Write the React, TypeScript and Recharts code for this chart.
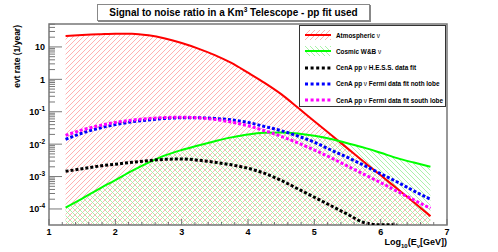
import React from "react";
import { ComposedChart, Area, Line, XAxis, YAxis, ReferenceArea } from "recharts";

// log10(E/GeV) sampling of the curves
const energy = [1.25, 1.5, 1.75, 2.0, 2.25, 2.5, 2.75, 3.0, 3.25, 3.5, 3.75, 4.0, 4.25, 4.5, 4.75, 5.0, 5.25, 5.5, 5.75, 6.0, 6.25, 6.5, 6.75];

// events per year
const atmospheric = [21.9, 23.4, 24.5, 25.7, 25.7, 22.9, 18.2, 13.2, 8.9, 5.6, 3.2, 1.6, 0.78, 0.35, 0.135, 0.051, 0.0195, 0.0074, 0.0028, 0.0011, 0.00042, 0.00016, 0.00006];
const cosmicWB = [0.00011, 0.00021, 0.00041, 0.00078, 0.0015, 0.0027, 0.0045, 0.0066, 0.0091, 0.0123, 0.0162, 0.02, 0.0224, 0.0229, 0.0214, 0.0182, 0.0145, 0.0107, 0.0078, 0.0054, 0.0037, 0.0027, 0.002];
const hessFit = [0.00145, 0.00174, 0.0021, 0.0024, 0.00275, 0.0031, 0.0034, 0.0035, 0.0032, 0.00275, 0.0023, 0.0018, 0.00126, 0.00076, 0.00042, 0.00023, 0.000126, 0.000069, 0.000038, 0.0000325, 0.0000325, null, null];
const fermiNorth = [0.0141, 0.0219, 0.031, 0.04, 0.049, 0.056, 0.062, 0.065, 0.065, 0.062, 0.056, 0.047, 0.035, 0.026, 0.0178, 0.0115, 0.0066, 0.0039, 0.0022, 0.00123, 0.00068, 0.00036, 0.0002];
const fermiSouth = [0.0186, 0.0275, 0.037, 0.047, 0.055, 0.062, 0.066, 0.068, 0.065, 0.058, 0.048, 0.037, 0.026, 0.0174, 0.011, 0.0066, 0.0038, 0.0021, 0.00117, 0.00065, 0.00035, 0.00019, 0.000105];

const xMajor = [1, 2, 3, 4, 5, 6, 7];
const yDecades = [-4, -3, -2, -1, 0, 1];
const yMin = 3.2e-5;
const yMax = 51;

const legendLabels = ["Atmospheric", "Cosmic W&B", "CenA pp", "CenA pp", "CenA pp"];
const legendSuffix = ["", "", " H.E.S.S. data fit", " Fermi data fit noth lobe", " Fermi data fit south lobe"];

const FONT = "'Liberation Sans', Arial, sans-serif";

const rows = energy.map((e, i) => ({
  e,
  atm: atmospheric[i],
  cos: cosmicWB[i],
  hess: hessFit[i],
  north: fermiNorth[i],
  south: fermiSouth[i],
}));

const xTicks: number[] = [];
xMajor.forEach((v, i) => {
  xTicks.push(v);
  if (i < xMajor.length - 1) for (let k = 1; k < 5; k++) xTicks.push(v + k * 0.2);
});

const yTicks: number[] = [];
yDecades.forEach((d) => {
  for (let m = 1; m < 10; m++) {
    const v = m * Math.pow(10, d);
    if (v >= yMin && v <= yMax) yTicks.push(v);
  }
});

function XTick({ x, y, payload }: any) {
  const v = payload.value;
  const major = Math.abs(v - Math.round(v)) < 1e-6;
  return (
    <g>
      <line x1={x} x2={x} y1={y} y2={y - (major ? 6 : 3)} stroke="#777" />
      {major && (
        <text x={x} y={y + 10} textAnchor="middle" fontSize={9} fontWeight="bold" fontFamily={FONT} fill="#000">
          {Math.round(v)}
        </text>
      )}
    </g>
  );
}

function YTick({ x, y, payload }: any) {
  const e = Math.log10(payload.value);
  const n = Math.round(e);
  const major = Math.abs(e - n) < 1e-6;
  return (
    <g>
      <line x1={x} x2={x + (major ? 13 : 6)} y1={y} y2={y} stroke="#777" />
      {major && (
        <text x={x - 4} y={y + 3.5} textAnchor="end" fontSize={9} fontWeight="bold" fontFamily={FONT} fill="#000">
          {n === 0 ? "1" : "10"}
          {n < 0 && (
            <tspan dy={-4} fontSize={6.5}>
              {n}
            </tspan>
          )}
        </text>
      )}
    </g>
  );
}

function Sample({ i }: { i: number }) {
  if (i < 2) {
    return (
      <svg width={26} height={10}>
        <rect x={0} y={0} width={26} height={10} fill={i === 0 ? "url(#hatchRed)" : "url(#hatchGreen)"} />
        <line x1={0} x2={26} y1={5} y2={5} stroke={i === 0 ? "#ff0000" : "#00ff00"} strokeWidth={2} />
      </svg>
    );
  }
  const col = ["#000000", "#0000ff", "#ff00ff"][i - 2];
  return (
    <svg width={26} height={10}>
      <line x1={0} x2={26} y1={5} y2={5} stroke={col} strokeWidth={3} strokeDasharray="3 2.6" />
    </svg>
  );
}

function LegendBox() {
  return (
    <div
      style={{
        position: "absolute",
        left: 299,
        top: 25,
        width: 147,
        height: 82,
        border: "1px solid #333",
        background: "#fff",
        boxSizing: "border-box",
        fontFamily: FONT,
      }}
    >
      {legendLabels.map((l, i) => (
        <div
          key={i}
          style={{
            position: "absolute",
            left: 5,
            top: 1 + i * 16.3,
            height: 16,
            display: "flex",
            alignItems: "center",
            whiteSpace: "nowrap",
          }}
        >
          <Sample i={i} />
          <span style={{ marginLeft: 5, fontSize: 6.4, fontWeight: "bold", color: "#000" }}>
            {l} <span style={{ fontWeight: "normal" }}>ν</span>
            {legendSuffix[i]}
          </span>
        </div>
      ))}
    </div>
  );
}

export default function App() {
  return (
    <div style={{ position: "absolute", left: 0, top: 0, width: 498, height: 252, background: "#fff", fontFamily: FONT }}>
      <ComposedChart width={498} height={252} data={rows} margin={{ top: 24, right: 51, bottom: 0, left: 0 }}>
        <defs>
          <pattern id="hatchRed" patternUnits="userSpaceOnUse" width={5} height={5}>
            <path d="M0,5 L5,0 M-1,1 L1,-1 M4,6 L6,4" stroke="#ffa8a8" strokeWidth={0.9} />
          </pattern>
          <pattern id="hatchGreen" patternUnits="userSpaceOnUse" width={5} height={5}>
            <path d="M0,0 L5,5 M-1,4 L1,6 M4,-1 L6,1" stroke="#a0f0a0" strokeWidth={0.9} />
          </pattern>
        </defs>
        <XAxis
          dataKey="e"
          type="number"
          domain={[1, 7]}
          ticks={xTicks}
          interval={0}
          height={27}
          tickSize={0}
          tickMargin={0}
          axisLine={false}
          tickLine={false}
          tick={<XTick />}
          allowDataOverflow
        />
        <YAxis
          scale="log"
          type="number"
          domain={[yMin, yMax]}
          ticks={yTicks}
          interval={0}
          width={49}
          tickSize={0}
          tickMargin={0}
          axisLine={false}
          tickLine={false}
          tick={<YTick />}
          allowDataOverflow
        />
        <Area dataKey="atm" type="monotone" baseValue={yMin} fill="url(#hatchRed)" fillOpacity={1} stroke="none" isAnimationActive={false} />
        <Area dataKey="cos" type="monotone" baseValue={yMin} fill="url(#hatchGreen)" fillOpacity={1} stroke="none" isAnimationActive={false} />
        <Line dataKey="atm" type="monotone" stroke="#ff0000" strokeWidth={2} dot={false} isAnimationActive={false} />
        <Line dataKey="cos" type="monotone" stroke="#00ff00" strokeWidth={2} dot={false} isAnimationActive={false} />
        <Line dataKey="hess" type="monotone" stroke="#000000" strokeWidth={3} strokeDasharray="3 2" dot={false} isAnimationActive={false} />
        <Line dataKey="north" type="monotone" stroke="#0000ff" strokeWidth={3} strokeDasharray="3 2" dot={false} isAnimationActive={false} />
        <Line dataKey="south" type="monotone" stroke="#ff00ff" strokeWidth={3} strokeDasharray="3 2" dot={false} isAnimationActive={false} />
        <ReferenceArea x1={1} x2={7} y1={yMin} y2={yMax} fill="none" stroke="#777" strokeWidth={1.5} ifOverflow="visible" />
      </ComposedChart>
      <LegendBox />
      <div
        style={{
          position: "absolute",
          left: 97,
          top: 4,
          width: 271,
          height: 15,
          border: "1px solid #888",
          boxShadow: "1px 1px 0 #888",
          fontSize: 10,
          fontWeight: "bold",
          textAlign: "center",
          lineHeight: "15px",
        }}
      >
        Signal to noise ratio in a Km<sup style={{ fontSize: 6.5, verticalAlign: "top", lineHeight: "10px" }}>3</sup> Telescope - pp fit used
      </div>
      <div
        style={{
          position: "absolute",
          left: 12,
          top: 25,
          transformOrigin: "0 0",
          transform: "rotate(-90deg) translate(-100%, 0)",
          fontSize: 8.5,
          fontWeight: "bold",
          whiteSpace: "nowrap",
          lineHeight: "11px",
        }}
      >
        evt rate (1/year)
      </div>
      <div
        style={{
          position: "absolute",
          right: 51,
          top: 237,
          fontSize: 9,
          fontWeight: "bold",
          whiteSpace: "nowrap",
          lineHeight: "11px",
        }}
      >
        Log<sub style={{ fontSize: 6, verticalAlign: "-3px" }}>10</sub>(E<sub style={{ fontSize: 6, verticalAlign: "-3px" }}>ν</sub>
        [GeV])
      </div>
    </div>
  );
}
